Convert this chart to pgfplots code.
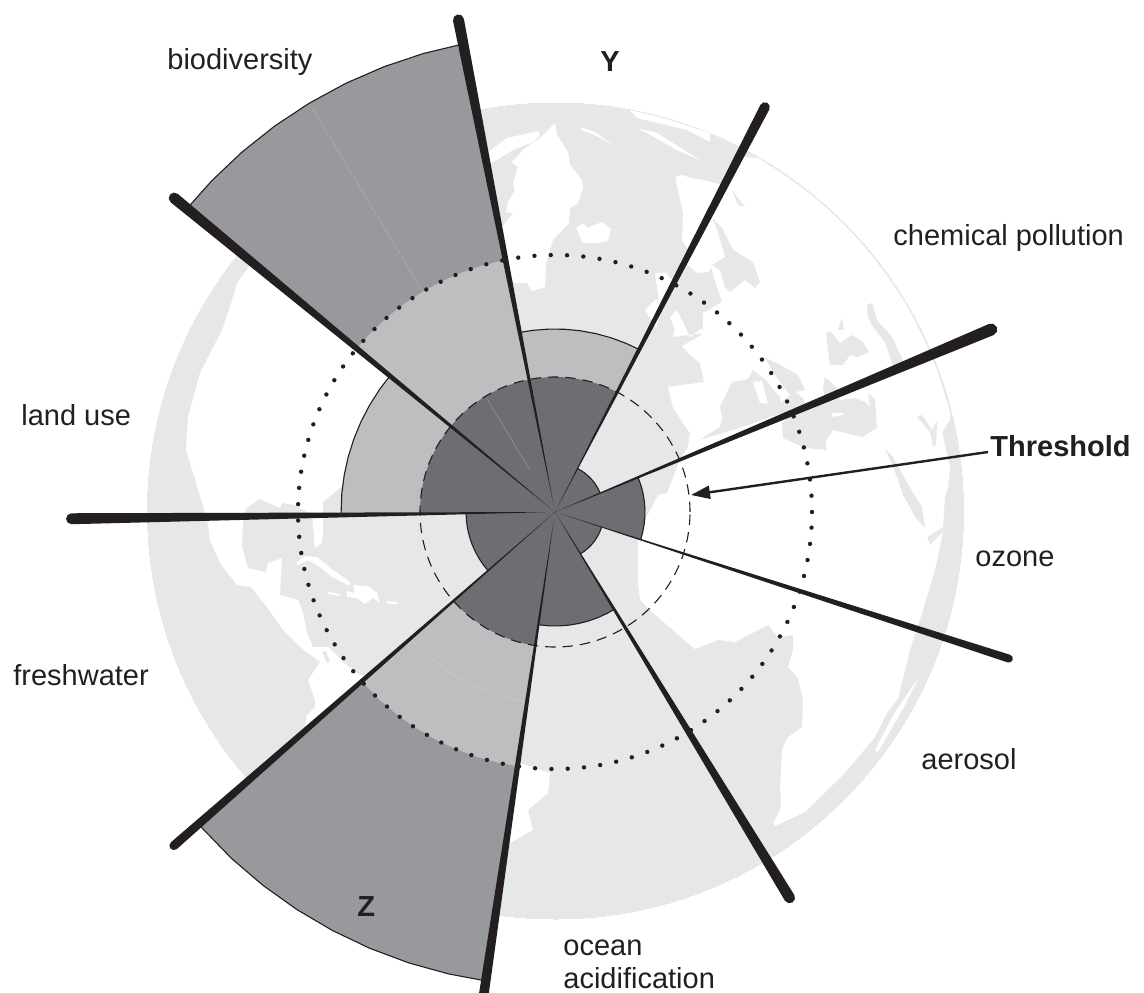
\documentclass[border=0pt]{standalone}
\usepackage{fontspec}
\setmainfont{Liberation Sans}
\usepackage{pgfplots}
\pgfplotsset{compat=1.18}
\usetikzlibrary{arrows.meta}
\definecolor{ink}{HTML}{231F20}
\definecolor{globe}{HTML}{E6E7E8}
\definecolor{sdark}{HTML}{6D6E71}
\definecolor{smid}{HTML}{BCBEC0}
\definecolor{sgrey}{HTML}{98999C}
\pgfplotsset{
  px/.style={x filter/.expression={x-555},y filter/.expression={512-y}},
  sea/.style={px,fill=globe,draw=none},
  land/.style={px,fill=white,draw=none},
  wedge/.style={data cs=polar,fill=#1,draw=none},
  rim/.style={data cs=polar,draw=ink,line width=0.55pt},
  spoke/.style={data cs=polar,fill=ink,draw=none},
}
\begin{document}
\begin{tikzpicture}
\useasboundingbox (0,0) rectangle (572pt,496pt);
\begin{axis}[
  at={(0,0)}, anchor=south west,
  scale only axis, width=572pt, height=496pt,
  xmin=-555, xmax=589, ymin=-480, ymax=512,
  hide axis, clip mode=individual,
]
% globe disk
\addplot[only marks, mark=*, mark size=204pt, mark options={fill=globe,draw=globe,line width=0pt}] coordinates {(0.5,1)};

% Americas
\addplot[land] coordinates {
  (255,255) (248,268) (237,283) (230,307) (222,330) (200,373) (188,417) (186,450) (193,473)
  (205,513) (208,525) (210,540) (220,563) (237,585) (251,587) (267,607) (283,630) (300,647) (320,662)
  (308,680) (315,700) (315,707) (307,715) (305,727) (320,735) (500,843) (510,843) (533,830) (528,810)
  (548,793) (550,773) (520,763) (500,720) (380,680) (367,678) (357,673) (343,662) (328,647) (313,647)
  (307,633) (303,613) (298,600) (280,595) (282,558) (268,563) (266,572) (248,568) (242,547) (243,520)
  (246,508) (260,499) (280,508) (282,503) (295,505) (312,515) (315,548) (322,543) (323,533) (323,502)
  (340,488) (400,430) (400,340)
} --cycle;
\addplot[sea] coordinates {(194,473) (197,490) (205,513) (198,512) (195,500)} --cycle;
\addplot[sea] coordinates {(322,652) (326,651) (330,662) (327,663)} --cycle;
\addplot[land] coordinates {(296,563) (305,556) (317,557) (333,570) (350,582) (350,586) (332,577) (320,567) (308,560) (298,565)} --cycle;
\addplot[land] coordinates {(353,585) (368,586) (377,593) (380,603) (373,598) (365,604) (357,598) (347,597) (347,591) (355,593)} --cycle;
\addplot[land] coordinates {(328,592) (340,594) (340,596) (328,594)} --cycle;
\addplot[land] coordinates {(387,601) (397,602) (397,604) (387,604)} --cycle;

% Greenland, Iceland, arctic slivers
\addplot[land] coordinates {
  (555,123) (557,135) (568,152) (570,165) (582,180) (583,188) (578,203) (570,208) (569,223) (553,240)
  (548,257) (546,263) (545,287) (532,291) (527,283) (515,283) (510,277) (502,227) (513,213) (506,212)
  (508,202) (515,190) (513,183) (518,167) (512,162) (525,148) (540,138)
} --cycle;
\addplot[land] coordinates {(484,155) (507,138) (538,131) (540,135) (533,142) (513,150) (490,164)} --cycle;
\addplot[land] coordinates {(576,228) (583,223) (587,228) (602,222) (611,229) (608,241) (598,243) (583,243)} --cycle;
\addplot[land] coordinates {(580,127) (595,132) (613,145) (595,135) (582,130)} --cycle;
\addplot[land] coordinates {(638,128) (657,133) (700,160) (677,150)} --cycle;
\addplot[land] coordinates {(630,110) (670,120) (710,133) (710,142) (687,130) (637,118)} --cycle;

% Eurasia and Africa
\addplot[land] coordinates {
  (675,177) (683,175) (690,178) (703,180) (722,185) (742,157) (759,158) (789,178) (817,199) (843,223)
  (867,249) (889,278) (908,307) (924,339) (938,372) (950,412) (950,420) (942,432) (950,467) (948,487)
  (945,497) (943,527) (927,537) (930,545) (943,532) (935,570) (923,610) (910,650) (898,698) (887,713)
  (875,737) (845,773) (805,812) (775,826) (773,823) (780,810) (781,800) (780,790) (782,750) (787,738)
  (802,727) (803,700) (798,678) (788,667) (793,650) (793,635) (778,637) (768,625) (735,642) (718,640)
  (695,649) (652,612) (640,600) (638,583) (638,557) (638,540) (645,520) (658,495) (667,493) (680,460)
  (688,447) (690,433) (673,408) (668,387) (704,382) (700,363) (690,355) (682,346) (700,336) (703,330)
  (703,313) (722,302) (713,275) (712,267) (708,272) (697,273) (685,262) (690,253) (682,240) (683,213)
} --cycle;
\addplot[land] coordinates {(655,273) (666,273) (672,280) (666,300) (660,305) (658,295)} --cycle;
\addplot[land] coordinates {(645,310) (655,300) (664,300) (656,328)} --cycle;
\addplot[land] coordinates {(677,310) (690,337) (702,328) (703,333) (673,337) (675,330) (670,317)} --cycle;
\addplot[land] coordinates {(919,677) (905,705) (878,752) (875,750) (895,712)} --cycle;

% seas on the old world
\addplot[sea] coordinates {(712,218) (722,228) (733,250) (753,262) (760,282) (755,288) (745,280) (730,292) (725,287) (720,270) (712,265) (725,257) (718,232)} --cycle;
\addplot[sea] coordinates {(732,190) (745,207) (738,205)} --cycle;
\addplot[sea] coordinates {(699,440) (720,427) (722,417) (720,407) (732,382) (748,379) (753,370) (767,381) (772,388) (780,397) (782,413) (733,430)} --cycle;
\addplot[land] coordinates {(753,382) (762,381) (768,404) (760,403)} --cycle;
\addplot[sea] coordinates {(765,358) (777,363) (798,375) (805,390) (795,392) (803,398) (806,407) (785,417) (778,405) (790,395) (775,375)} --cycle;
\addplot[sea] coordinates {(782,423) (783,438) (805,448) (827,450) (825,442) (833,430) (862,437) (877,428) (875,400) (868,393) (870,407) (865,402) (855,398) (840,400) (837,388) (825,377) (823,388) (825,400) (800,408)} --cycle;
\addplot[land] coordinates {(832,413) (843,413) (844,415) (833,417)} --cycle;
\addplot[sea] coordinates {(826,333) (830,331) (840,343) (852,335) (863,342) (869,352) (858,357) (850,355) (843,365) (830,365) (828,350)} --cycle;
\addplot[sea] coordinates {(838,330) (842,318) (844,330)} --cycle;
\addplot[sea] coordinates {(867,305) (872,303) (877,320) (892,337) (903,360) (895,372) (885,342) (873,327) (868,317)} --cycle;
\addplot[sea] coordinates {(885,448) (893,457) (910,488) (922,507) (925,528) (915,517) (910,507) (903,495) (897,477)} --cycle;
\addplot[sea] coordinates {(917,417) (922,415) (932,430) (936,422) (937,423) (936,445) (933,447) (930,432)} --cycle;
% limb line where land reaches the edge
\addplot[data cs=polar, draw=globe, line width=0.12pt] coordinates {(60,408) (56,408) (52,408) (48,408) (44,408) (40,408) (36,408) (32,408) (28,408) (24,408) (20,408) (16,408)};

% sectors: outer layers first, angles in degrees and radius in px
\addplot[wedge=sgrey] coordinates {(0,0) (101.1,477) (106,477) (111,477) (116,477) (121,477) (126,477) (131,477) (136,477) (140.5,477)} --cycle;
\addplot[wedge=smid] coordinates {(0,0) (101.1,257) (106,257) (111,257) (116,257) (121,257) (126,257) (131,257) (136,257) (140.5,257)} --cycle;
\addplot[wedge=sdark] coordinates {(0,0) (101.1,135) (106,135) (111,135) (116,135) (121,135) (126,135) (131,135) (136,135) (140.5,135)} --cycle;

\addplot[wedge=smid] coordinates {(0,0) (62.5,183) (67,183) (72,183) (77,183) (82,183) (87,183) (92,183) (97,183) (101.1,183)} --cycle;
\addplot[wedge=sdark] coordinates {(0,0) (62.5,135) (67,135) (72,135) (77,135) (82,135) (87,135) (92,135) (97,135) (101.1,135)} --cycle;

\addplot[wedge=sdark] coordinates {(0,0) (22.7,49) (28,49) (33,49) (38,49) (43,49) (48,49) (53,49) (58,49) (62.5,49)} --cycle;
\addplot[wedge=sdark] coordinates {(0,0) (-17.9,90) (-13,90) (-8,90) (-3,90) (2,90) (7,90) (12,90) (17,90) (22.7,90)} --cycle;
\addplot[wedge=sdark] coordinates {(0,0) (-58.6,49) (-53,49) (-48,49) (-43,49) (-38,49) (-33,49) (-28,49) (-23,49) (-17.9,49)} --cycle;
\addplot[wedge=sdark] coordinates {(0,0) (-98.4,114) (-93,114) (-88,114) (-83,114) (-78,114) (-73,114) (-68,114) (-63,114) (-58.6,114)} --cycle;

\addplot[wedge=sgrey] coordinates {(0,0) (-138.8,474) (-133,474) (-128,474) (-123,474) (-118,474) (-113,474) (-108,474) (-103,474) (-98.4,474)} --cycle;
\addplot[wedge=smid] coordinates {(0,0) (-138.8,257) (-133,257) (-128,257) (-123,257) (-118,257) (-113,257) (-108,257) (-103,257) (-98.4,257)} --cycle;
\addplot[wedge=sdark] coordinates {(0,0) (-138.8,135) (-133,135) (-128,135) (-123,135) (-118,135) (-113,135) (-108,135) (-103,135) (-98.4,135)} --cycle;

\addplot[wedge=sdark] coordinates {(0,0) (-179.2,89) (-174,89) (-169,89) (-164,89) (-159,89) (-154,89) (-149,89) (-144,89) (-138.8,89)} --cycle;

\addplot[wedge=smid] coordinates {(0,0) (140.5,214) (145,214) (150,214) (155,214) (160,214) (165,214) (170,214) (175,214) (180.8,214)} --cycle;
\addplot[wedge=sdark] coordinates {(0,0) (140.5,135) (145,135) (150,135) (155,135) (160,135) (165,135) (170,135) (175,135) (180.8,135)} --cycle;

% faint seams inside the sectors
\addplot[data cs=polar, draw=smid!85!sgrey, line width=0.15pt] coordinates {(121,477) (121,258)};
\addplot[data cs=polar, draw=smid!70!sdark, line width=0.15pt] coordinates {(121,133) (121,48)};
\addplot[data cs=polar, draw=smid!50!globe, line width=0.15pt] coordinates {(-138.2,192) (-133,192) (-128,192) (-123,192) (-118,192) (-113,192) (-108,192) (-103,192) (-98.9,192)};

% outer rims
\addplot[rim] coordinates {(101.1,477) (106,477) (111,477) (116,477) (121,477) (126,477) (131,477) (136,477) (140.5,477)};
\addplot[rim] coordinates {(62.5,183) (67,183) (72,183) (77,183) (82,183) (87,183) (92,183) (97,183) (101.1,183)};
\addplot[rim] coordinates {(22.7,49) (28,49) (33,49) (38,49) (43,49) (48,49) (53,49) (58,49) (62.5,49)};
\addplot[rim] coordinates {(-17.9,90) (-13,90) (-8,90) (-3,90) (2,90) (7,90) (12,90) (17,90) (22.7,90)};
\addplot[rim] coordinates {(-58.6,49) (-53,49) (-48,49) (-43,49) (-38,49) (-33,49) (-28,49) (-23,49) (-17.9,49)};
\addplot[rim] coordinates {(-98.4,114) (-93,114) (-88,114) (-83,114) (-78,114) (-73,114) (-68,114) (-63,114) (-58.6,114)};
\addplot[rim] coordinates {(-138.8,474) (-133,474) (-128,474) (-123,474) (-118,474) (-113,474) (-108,474) (-103,474) (-98.4,474)};
\addplot[rim] coordinates {(-179.2,89) (-174,89) (-169,89) (-164,89) (-159,89) (-154,89) (-149,89) (-144,89) (-138.8,89)};
\addplot[rim] coordinates {(140.5,214) (145,214) (150,214) (155,214) (160,214) (165,214) (170,214) (175,214) (180.8,214)};

% threshold (dashed) and dotted rings
\addplot[only marks, mark=o, mark size=67.5pt, mark options={draw=ink,line width=0.55pt,dash pattern=on 5.2pt off 3.5pt}] coordinates {(0,0)};
\addplot[only marks, mark=o, mark size=128.5pt, mark options={draw=ink,line width=2.2pt,line cap=round,dash pattern=on 0pt off 8.16pt}] coordinates {(0,0)};

% spokes, thin at the centre, round at the tip
\addplot[spoke] coordinates {(0,0) (100.47,501.5) (100.66,505.4) (101.1,507) (101.54,505.4) (101.73,501.5)} --cycle;
\addplot[spoke] coordinates {(0,0) (61.97,456) (62.16,459.5) (62.6,461) (63.04,459.5) (63.23,456)} --cycle;
\addplot[spoke] coordinates {(0,0) (21.97,473) (22.19,477.2) (22.7,479) (23.21,477.2) (23.43,473)} --cycle;
\addplot[spoke] coordinates {(0,0) (-18.38,477) (-18.24,479.8) (-17.9,481) (-17.56,479.8) (-17.42,477)} --cycle;
\addplot[spoke] coordinates {(0,0) (-59.4,451.5) (-59.19,455.4) (-58.7,457) (-58.21,455.4) (-58,451.5)} --cycle;
\addplot[spoke] coordinates {(0,0) (-98.97,505) (-98.4,510) (-97.83,505)} --cycle;
\addplot[spoke] coordinates {(0,0) (-139.31,506.5) (-139.16,509.7) (-138.8,511) (-138.44,509.7) (-138.29,506.5)} --cycle;
\addplot[spoke] coordinates {(0,0) (-179.85,483.5) (-179.66,487.4) (-179.2,489) (-178.74,487.4) (-178.55,483.5)} --cycle;
\addplot[spoke] coordinates {(0,0) (139.86,493.5) (140.05,497.4) (140.5,499) (140.95,497.4) (141.14,493.5)} --cycle;

% threshold arrow
\addplot[px, draw=ink, line width=1.2pt, -{Stealth[length=9.5pt,width=6.5pt,inset=0pt]}] coordinates {(988,452) (691,495)};

\begin{scope}[every node/.style={anchor=base west,inner sep=0pt,text=ink,font=\fontsize{14.5}{17}\selectfont}]
\node at (axis cs:-388,442) {biodiversity};
\node[font=\fontsize{14.5}{17}\selectfont\bfseries] at (axis cs:45,440) {Y};
\node at (axis cs:338,266) {chemical pollution};
\node at (axis cs:-534,87) {land use};
\node[font=\fontsize{14.5}{17}\selectfont\bfseries] at (axis cs:435,56) {Threshold};
\node at (axis cs:420,-54) {ozone};
\node at (axis cs:-542,-173) {freshwater};
\node at (axis cs:366,-257) {aerosol};
\node[font=\fontsize{14.5}{17}\selectfont\bfseries] at (axis cs:-198,-404) {Z};
\node at (axis cs:8,-443) {ocean};
\node at (axis cs:8,-476) {acidification};
\end{scope}
\end{axis}
\end{tikzpicture}
\end{document}
